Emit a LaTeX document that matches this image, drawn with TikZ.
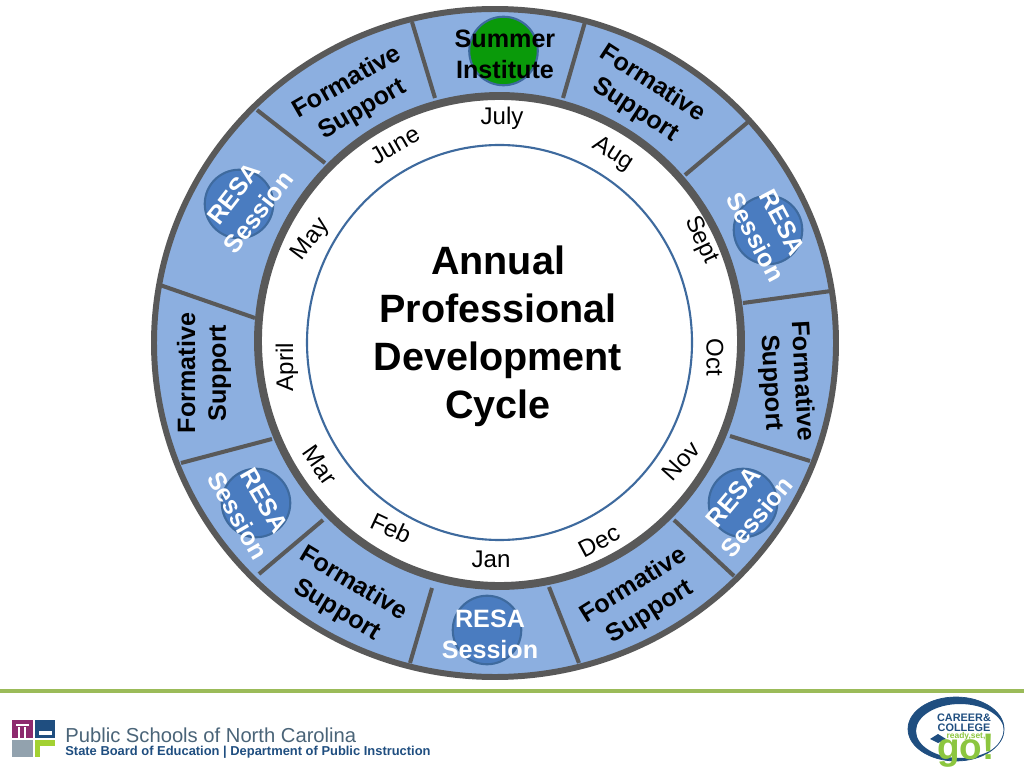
\documentclass[tikz,border=0pt]{standalone}
\usepackage{fontspec}
\setmainfont{Liberation Sans}
\usetikzlibrary{shapes.geometric}
\definecolor{ringfill}{HTML}{8CAFE0}
\definecolor{ringline}{HTML}{595959}
\definecolor{dotblue}{HTML}{4A7CC0}
\definecolor{dotline}{HTML}{3E6A9E}
\definecolor{rulegreen}{HTML}{9BBB59}
\definecolor{navy}{HTML}{1F4E80}
\definecolor{slate}{HTML}{4A6478}
\definecolor{gogreen}{HTML}{8CC63F}
\definecolor{summergreen}{HTML}{0A9A0A}
\definecolor{crestred}{HTML}{8E2A6E}

\begin{document}
\begin{tikzpicture}[x=0.02cm,y=0.02cm]
	\tikzstyle{spoke} = [draw=ringline, line width=2.3pt]
	\tikzstyle{month} = [text centered, font=\fontsize{13.7}{16}\selectfont, inner sep=0pt]
	\tikzstyle{support} = [text centered, align=center, text=black, font=\fontsize{14.3}{17.6}\selectfont\bfseries, inner sep=0pt]
	\tikzstyle{resa} = [text centered, align=center, text=white, font=\fontsize{14.3}{17.6}\selectfont\bfseries, inner sep=0pt]
	\tikzstyle{dot} = [circle, draw=dotline, fill=dotblue, line width=1.2pt, minimum size=39pt, inner sep=0pt]
\useasboundingbox (0,0) rectangle (1024,768);
\fill[white] (0,0) rectangle (1024,768);
\begin{scope}[shift={(496,424)}]
%ring
\draw[ringline, fill=ringfill, line width=3.4pt] (-1,1) ellipse (341 and 334);
\draw[ringline, fill=white, line width=4.5pt] (3.5,3) ellipse (241.5 and 245);
\draw[dotline, line width=1.2pt] (3.5,1.5) ellipse (192.5 and 197.5);
%spokes
\path [spoke] (-61,246) -- (-84,322);
\path [spoke] (67,246) -- (89,322);
\path [spoke] (189,169) -- (252,222);
\path [spoke] (247,41) -- (335,53);
\path [spoke] (234,-92) -- (314,-117);
\path [spoke] (178,-176) -- (238,-232);
\path [spoke] (53,-243) -- (83,-319);
\path [spoke] (-64,-244) -- (-86,-319);
\path [spoke] (-173,-176) -- (-237,-230);
\path [spoke] (-224,-95) -- (-315,-119);
\path [spoke] (-241,26) -- (-336,59);
\path [spoke] (-171,181) -- (-239,234);
%dots
\node [dot, fill=summergreen] at (7.5,293) (summerdot) {};
\node [dot] at (272,114) (sepdot) {};
\node [dot] at (247,-159) (novdot) {};
\node [dot] at (-9,-286) (jandot) {};
\node [dot] at (-240,-159) (mardot) {};
\node [dot] at (-257,140) (maydot) {};
%session labels
\node [support] at (9,290) (summer) {Summer\\Institute};
\node [support, rotate=30] at (-141,248) (fsjune) {Formative\\Support};
\node [support, rotate=-33] at (148,247) (fsaug) {Formative\\Support};
\node [resa, rotate=-62] at (273,114) (rsept) {RESA\\Session};
\node [support, rotate=-87] at (290,-38) (fsoct) {Formative\\Support};
\node [resa, rotate=50] at (249,-163) (rnov) {RESA\\Session};
\node [support, rotate=32] at (146,-255) (fsdec) {Formative\\Support};
\node [resa] at (-6,-290) (rjan) {RESA\\Session};
\node [support, rotate=-31] at (-151,-253) (fsfeb) {Formative\\Support};
\node [resa, rotate=-60] at (-245,-164) (rmar) {RESA\\Session};
\node [support, rotate=90] at (-292,-29) (fsapr) {Formative\\Support};
\node [resa, rotate=52] at (-250,141) (rmay) {RESA\\Session};
%months
\node [month] at (6,226) (july) {July};
\node [month, rotate=30] at (-101,199) (june) {June};
\node [month, rotate=53] at (-185,104) (may) {May};
\node [month, rotate=90] at (-209,-23) (april) {April};
\node [month, rotate=-55] at (-176,-121) (mar) {Mar};
\node [month, rotate=-25] at (-105,-184) (feb) {Feb};
\node [month] at (-5,-215) (jan) {Jan};
\node [month, rotate=28] at (103,-197) (dec) {Dec};
\node [month, rotate=48] at (185,-117) (nov) {Nov};
\node [month, rotate=-90] at (219,-13) (oct) {Oct};
\node [month, rotate=-65] at (205,104) (sept) {Sept};
\node [month, rotate=-33] at (117,190) (aug) {Aug};
%title
\node [text centered, align=center, font=\fontsize{22.5}{27.3}\selectfont\bfseries, inner sep=0pt] at (2,8) (title) {Annual\\Professional\\Development\\Cycle};
\end{scope}
%footer
\fill[rulegreen] (0,75) rectangle (1024,79);
\fill[crestred] (12,30) rectangle (33,48);
\fill[navy] (35,30) rectangle (55,48);
\fill[slate!60!white] (12,11) rectangle (33,28);
\fill[gogreen!80!yellow] (35,11) rectangle (55,28);
\fill[white] (16,42) rectangle (29,44);
\fill[white] (18,30) rectangle (20,41);
\fill[white] (24,30) rectangle (26,41);
\fill[white] (39,33) rectangle (52,37);
\fill[white] (40,11) rectangle (55,22);
\node [anchor=base west, text=slate, font=\fontsize{11.5}{13}\selectfont, inner sep=0pt] at (65,26) (psnc) {Public Schools of North Carolina};
\node [anchor=base west, text=navy, font=\fontsize{7.35}{8}\selectfont\bfseries, inner sep=0pt] at (65,13) (sbe) {State Board of Education | Department of Public Instruction};
\draw[navy, line width=0.4pt] (956,39) ellipse (48 and 32);
\fill[navy, even odd rule] (956,39) ellipse (48 and 32) (960,37) ellipse (44 and 27);
\node [text=navy, font=\fontsize{6.2}{5.6}\selectfont\bfseries, align=center, inner sep=0] at (964,45) (career) {CAREER\&\\COLLEGE};
\fill[navy] (930,29) -- (938,34) -- (946,29) -- (938,25) -- cycle;
\node [text=gogreen, font=\fontsize{4.8}{5}\selectfont\bfseries, inner sep=0] at (966,32) (ready) {ready,set,};
\node [text=gogreen, font=\fontsize{21}{22}\selectfont\bfseries, inner sep=0] at (966,17) (go) {go!};
\end{tikzpicture}
\end{document}
